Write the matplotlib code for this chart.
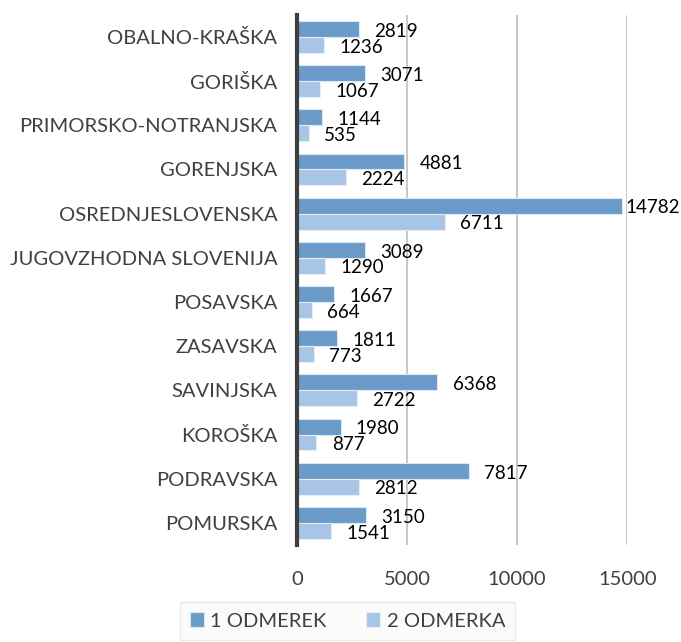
import matplotlib.pyplot as plt
import numpy as np

plt.rcParams['font.family'] = ['Lato', 'DejaVu Sans']

regions = ['OBALNO-KRAŠKA', 'GORIŠKA', 'PRIMORSKO-NOTRANJSKA', 'GORENJSKA',
           'OSREDNJESLOVENSKA', 'JUGOVZHODNA SLOVENIJA', 'POSAVSKA', 'ZASAVSKA',
           'SAVINJSKA', 'KOROŠKA', 'PODRAVSKA', 'POMURSKA']
odmerek1 = [2819, 3071, 1144, 4881, 14782, 3089, 1667, 1811, 6368, 1980, 7817, 3150]
odmerka2 = [1236, 1067, 535, 2224, 6711, 1290, 664, 773, 2722, 877, 2812, 1541]
xticks = [0, 5000, 10000, 15000]

c1 = '#6A9BC9'
c2 = '#A8C5E5'

fig = plt.figure(figsize=(6.81, 6.42), dpi=100)
ax = fig.add_axes([0.436, 0.151, 0.485, 0.826])

y = np.arange(len(regions))
h = 0.36
ax.barh(y - h / 2, odmerek1, height=h, color=c1, edgecolor='#DCE8F4', linewidth=0.8,
        label='1 ODMEREK', zorder=3)
ax.barh(y + h / 2, odmerka2, height=h, color=c2, edgecolor='#E4EDF7', linewidth=0.8,
        label='2 ODMERKA', zorder=3)

fs = 14.5
vfs = 13.5
for yi, v in zip(y, odmerek1):
    ax.text(min(v + 700, 14930), yi - h / 2 + 0.05, str(v), va='center', ha='left',
            fontsize=vfs, color='black')
for yi, v in zip(y, odmerka2):
    ax.text(v + 700, yi + h / 2 + 0.05, str(v), va='center', ha='left',
            fontsize=vfs, color='black')

ax.set_yticks(y)
ax.set_yticklabels(regions, fontsize=fs, color='#404040')
ax.set_ylim(11.5, -0.5)
ax.set_xlim(0, 15000)
ax.set_xticks(xticks)
ax.set_xticklabels([str(t) for t in xticks], fontsize=fs, color='#404040')
ax.tick_params(axis='both', length=0)
ax.tick_params(axis='x', pad=19)
ax.tick_params(axis='y', pad=14)

ax.grid(axis='x', color='#BFBFBF', linewidth=1.2, zorder=0)
for s in ['top', 'right', 'bottom']:
    ax.spines[s].set_visible(False)
ax.spines['left'].set_color('#404040')
ax.spines['left'].set_linewidth(3)
ax.spines['left'].set_zorder(4)

leg = fig.legend(loc='lower center', bbox_to_anchor=(0.51, -0.012), ncol=2, fontsize=fs,
                 frameon=True, fancybox=False, handlelength=0.7, handleheight=0.7,
                 handletextpad=0.3, columnspacing=2.0, borderpad=0.5)
leg.get_frame().set_edgecolor('#E6E6E6')
leg.get_frame().set_facecolor('#FAFAFA')
for t in leg.get_texts():
    t.set_color('#404040')

fig.savefig('out.png', dpi=100)
